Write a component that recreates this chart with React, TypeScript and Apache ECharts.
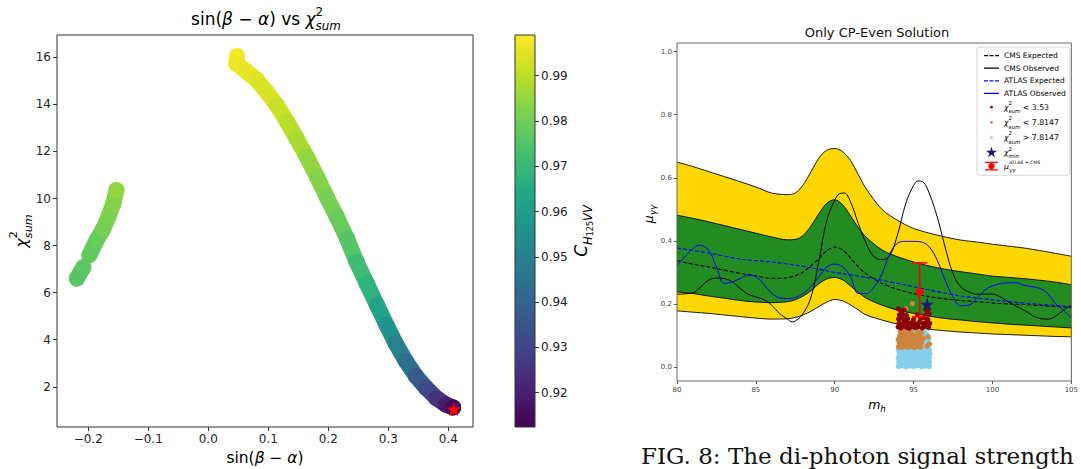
import React, { useEffect, useRef } from 'react';
import * as echarts from 'echarts';

const F = 'DejaVu Sans';
const VIRIDIS = ['#440154', '#482475', '#414487', '#355f8d', '#2a788e', '#21918c', '#22a884', '#44bf70', '#7ad151', '#bddf26', '#fde725'];

// ---------------- left panel: [sin(β−α), χ²sum, C_H125VV] ----------------
const MAIN_BRANCH: number[][] = [
  [0.048, 16.05, 0.998], [0.047, 15.72, 0.997], [0.064, 15.39, 0.996], [0.081, 15.04, 0.995],
  [0.097, 14.54, 0.994], [0.114, 13.97, 0.992], [0.131, 13.27, 0.99], [0.147, 12.56, 0.988],
  [0.164, 11.78, 0.985], [0.181, 10.93, 0.983], [0.197, 10.08, 0.981], [0.214, 9.23, 0.979],
  [0.231, 8.31, 0.976], [0.247, 7.31, 0.972], [0.264, 6.39, 0.968], [0.281, 5.47, 0.962],
  [0.297, 4.62, 0.956], [0.312, 3.85, 0.95], [0.329, 3.1, 0.944], [0.346, 2.45, 0.937],
  [0.363, 1.95, 0.931], [0.38, 1.52, 0.925], [0.396, 1.24, 0.919], [0.408, 1.12, 0.915],
];
const LEFT_UPPER: number[][] = [
  [-0.198, 7.6, 0.978], [-0.186, 8.23, 0.979], [-0.175, 8.7, 0.981], [-0.166, 9.25, 0.982],
  [-0.158, 9.8, 0.983], [-0.153, 10.36, 0.985],
];
const LEFT_LOWER: number[][] = [[-0.219, 6.6, 0.976], [-0.208, 7.08, 0.977]];
const BEST_POINT = [[0.409, 1.05]];
const LEFT_X_TICKS = [-0.2, -0.1, 0, 0.1, 0.2, 0.3, 0.4];
const LEFT_Y_TICKS = [2, 4, 6, 8, 10, 12, 14, 16];
const CBAR_TICKS = [0.92, 0.93, 0.94, 0.95, 0.96, 0.97, 0.98, 0.99];
const CBAR_MIN = 0.9124;
const CBAR_MAX = 0.999;

// ---------------- right panel ----------------
const MASS = [80, 81, 82, 83, 84, 85, 86, 87, 87.5, 88, 88.5, 89, 89.5, 90, 90.5, 91, 91.5, 92, 93, 94, 95, 96, 97, 98, 99, 100, 101, 102, 103, 104, 105];
const YELLOW_HIGH = [0.65, 0.636, 0.62, 0.604, 0.588, 0.571, 0.552, 0.547, 0.552, 0.578, 0.62, 0.663, 0.688, 0.693, 0.683, 0.655, 0.61, 0.565, 0.5, 0.465, 0.44, 0.425, 0.413, 0.403, 0.397, 0.39, 0.384, 0.378, 0.37, 0.361, 0.352];
const GREEN_HIGH = [0.482, 0.472, 0.461, 0.449, 0.437, 0.425, 0.413, 0.404, 0.405, 0.418, 0.448, 0.487, 0.52, 0.531, 0.515, 0.48, 0.442, 0.412, 0.372, 0.35, 0.334, 0.321, 0.311, 0.303, 0.296, 0.289, 0.285, 0.281, 0.276, 0.27, 0.262];
const GREEN_LOW = [0.239, 0.234, 0.226, 0.219, 0.212, 0.207, 0.205, 0.208, 0.214, 0.226, 0.243, 0.265, 0.28, 0.285, 0.277, 0.258, 0.237, 0.219, 0.197, 0.181, 0.171, 0.162, 0.155, 0.15, 0.145, 0.141, 0.137, 0.134, 0.131, 0.128, 0.125];
const YELLOW_LOW = [0.179, 0.175, 0.171, 0.166, 0.161, 0.156, 0.153, 0.154, 0.158, 0.166, 0.178, 0.193, 0.207, 0.215, 0.211, 0.198, 0.182, 0.166, 0.15, 0.137, 0.129, 0.121, 0.116, 0.112, 0.109, 0.106, 0.104, 0.102, 0.1, 0.098, 0.097];
const CMS_EXP = [0.338, 0.327, 0.318, 0.308, 0.298, 0.29, 0.282, 0.284, 0.29, 0.302, 0.322, 0.345, 0.37, 0.381, 0.372, 0.347, 0.318, 0.296, 0.266, 0.247, 0.234, 0.224, 0.217, 0.212, 0.208, 0.204, 0.201, 0.199, 0.196, 0.193, 0.19];
const ATLAS_EXP_X = [80, 82, 84, 86, 88, 90, 92, 94, 96, 98, 100, 102, 104, 105];
const ATLAS_EXP_Y = [0.378, 0.362, 0.343, 0.334, 0.32, 0.301, 0.285, 0.266, 0.245, 0.226, 0.214, 0.204, 0.196, 0.193];
const CMS_OBS_X = [80, 81, 81.5, 82, 82.5, 83, 83.5, 84, 84.5, 85, 85.5, 86, 86.5, 87, 87.3, 87.6, 88, 88.5, 89, 89.5, 90, 90.3, 90.6, 91, 91.5, 92, 92.5, 93, 93.5, 94, 94.5, 95, 95.3, 95.6, 96, 96.5, 97, 97.5, 98, 98.5, 99, 100, 100.5, 101, 102, 103, 103.5, 104, 104.5, 105];
const CMS_OBS_Y = [0.232, 0.236, 0.255, 0.276, 0.283, 0.281, 0.271, 0.25, 0.232, 0.223, 0.215, 0.197, 0.171, 0.153, 0.144, 0.15, 0.171, 0.223, 0.339, 0.466, 0.529, 0.55, 0.552, 0.524, 0.455, 0.392, 0.35, 0.341, 0.355, 0.424, 0.518, 0.576, 0.59, 0.587, 0.55, 0.476, 0.381, 0.297, 0.255, 0.239, 0.232, 0.232, 0.223, 0.208, 0.181, 0.155, 0.153, 0.162, 0.181, 0.197];
const ATLAS_OBS_X = [80, 80.5, 81, 81.4, 82, 82.5, 83, 83.5, 84, 84.5, 85, 86, 86.5, 87, 88, 89, 89.5, 90, 90.5, 91, 91.5, 92, 92.5, 93, 93.5, 94, 94.5, 95, 95.5, 96, 96.5, 97, 97.5, 98, 98.5, 99, 99.5, 100, 101, 101.5, 102, 103, 103.5, 104, 104.5, 105];
const ATLAS_OBS_Y = [0.323, 0.35, 0.376, 0.387, 0.371, 0.318, 0.266, 0.271, 0.281, 0.292, 0.287, 0.235, 0.22, 0.218, 0.234, 0.287, 0.318, 0.327, 0.318, 0.287, 0.234, 0.234, 0.255, 0.297, 0.36, 0.394, 0.399, 0.399, 0.397, 0.381, 0.339, 0.276, 0.223, 0.195, 0.197, 0.218, 0.244, 0.258, 0.268, 0.268, 0.26, 0.25, 0.234, 0.202, 0.181, 0.157];
// scan points [m_h, μγγ]
const CHI_HIGH: number[][] = [
  [94.05, 0.004], [94.3, 0.006], [94.52, 0.003], [94.78, 0.005], [95.02, 0.004], [95.27, 0.006], [95.5, 0.003], [95.74, 0.005], [95.98, 0.004],
  [94.08, 0.017], [94.33, 0.019], [94.58, 0.016], [94.81, 0.018], [95.06, 0.017], [95.3, 0.019], [95.55, 0.016], [95.79, 0.018], [96.0, 0.017],
  [94.04, 0.03], [94.28, 0.031], [94.55, 0.029], [94.79, 0.032], [95.03, 0.03], [95.28, 0.031], [95.52, 0.029], [95.76, 0.032], [95.97, 0.03],
  [94.1, 0.043], [94.35, 0.044], [94.6, 0.042], [94.84, 0.045], [95.08, 0.043], [95.33, 0.044], [95.58, 0.042], [95.82, 0.045], [96.02, 0.043],
  [94.06, 0.055], [94.3, 0.057], [94.56, 0.054], [94.8, 0.056], [95.05, 0.055], [95.3, 0.057], [95.54, 0.054], [95.78, 0.056], [95.99, 0.055],
  [94.2, 0.068], [94.9, 0.07], [95.6, 0.066], [95.85, 0.075], [95.7, 0.085], [95.95, 0.09], [95.5, 0.098], [95.8, 0.105],
  [94.4, 0.11], [95.1, 0.115], [95.65, 0.118], [95.9, 0.125], [94.7, 0.128], [95.4, 0.13], [94.25, 0.135],
];
const CHI_MID: number[][] = [
  [94.05, 0.065], [94.25, 0.063], [94.45, 0.066], [94.65, 0.064], [94.85, 0.067], [95.05, 0.063], [95.25, 0.066], [95.45, 0.064], [95.85, 0.067],
  [94.1, 0.076], [94.3, 0.078], [94.5, 0.075], [94.7, 0.079], [94.9, 0.076], [95.1, 0.078], [95.3, 0.075], [95.5, 0.077], [96.0, 0.074],
  [94.02, 0.088], [94.22, 0.09], [94.42, 0.087], [94.62, 0.091], [94.82, 0.088], [95.02, 0.09], [95.22, 0.087], [95.42, 0.089], [95.62, 0.092],
  [94.12, 0.1], [94.32, 0.102], [94.55, 0.099], [94.75, 0.101], [94.95, 0.103], [95.18, 0.1], [95.38, 0.098], [95.92, 0.097],
  [94.15, 0.112], [94.38, 0.114], [94.6, 0.111], [94.85, 0.113], [95.25, 0.112], [95.5, 0.11],
  [94.5, 0.124], [95.2, 0.126], [94.92, 0.202], [94.5, 0.186],
];
const CHI_LOW: number[][] = [
  [94.02, 0.128], [94.2, 0.125], [94.38, 0.13], [94.55, 0.127], [94.72, 0.124], [94.9, 0.129], [95.08, 0.126], [95.3, 0.128], [95.55, 0.125], [95.75, 0.13], [95.95, 0.127],
  [94.08, 0.14], [94.28, 0.138], [94.45, 0.143], [94.65, 0.139], [94.85, 0.141], [95.12, 0.137], [95.35, 0.142], [95.6, 0.139], [95.82, 0.143], [96.02, 0.14],
  [94.05, 0.153], [94.25, 0.156], [94.42, 0.151], [94.62, 0.155], [95.0, 0.152], [95.45, 0.154], [95.7, 0.157], [95.9, 0.152],
  [94.1, 0.166], [94.3, 0.168], [94.55, 0.164], [95.25, 0.167], [95.78, 0.165], [95.98, 0.17],
  [94.2, 0.178], [94.4, 0.182], [94.05, 0.185], [95.85, 0.18],
];
const CHI_MIN_POINT = [[95.86, 0.2]];
// [m_h, μ, μ_low, μ_high]
const MU_COMBINED = [[95.38, 0.239, 0.16, 0.331]];
const RIGHT_Y_TICKS = [0, 0.2, 0.4, 0.6, 0.8, 1.0];

const STAR = 'path://M50,0 L61.2,34.5 L97.6,34.5 L68.2,55.9 L79.4,90.5 L50,69.1 L20.6,90.5 L31.8,55.9 L2.4,34.5 L38.8,34.5 Z';
const CORNERS = 'M0,0h0.01v0.01h-0.01z M15,11h-0.01v-0.01h0.01z ';
const SOLID_ICON = 'path://' + CORNERS + 'M0,5h15v1.2h-15z';
const DASH_ICON = 'path://' + CORNERS + 'M0,5h4v1.2h-4z M5.5,5h4v1.2h-4z M11,5h4v1.2h-4z';
const DOT_ICON = 'path://' + CORNERS + 'M6.1,5.5a1.4,1.4 0 1,1 2.8,0a1.4,1.4 0 1,1 -2.8,0z';
const STAR_ICON = 'path://' + CORNERS + 'M7.5,0 L8.8,4 L13,4 L9.6,6.5 L10.9,10.6 L7.5,8.1 L4.1,10.6 L5.4,6.5 L2,4 L6.2,4 Z';
const ERR_ICON = 'path://' + CORNERS + 'M1,1.2h13v1.1h-13z M1,8.7h13v1.1h-13z M7,1.2h1.1v8.6h-1.1z M4.4,5.5a3.1,3.1 0 1,1 6.2,0a3.1,3.1 0 1,1 -6.2,0z';

const pairs = (xs: number[], ys: number[]) => xs.map((x, i) => [x, ys[i]]);
const fmt1 = (v: number) => v.toFixed(1).replace('-', '\u2212');

const mathRich = (fs: number, color = '#000') => {
  const s = fs * 0.7;
  const L = fs * 0.88 + s;
  return {
    t: { fontFamily: F, fontSize: fs, lineHeight: L, align: 'left', color },
    i: { fontFamily: F, fontStyle: 'italic', fontSize: fs, lineHeight: L, align: 'left', color },
    sup: { fontFamily: F, fontSize: s, lineHeight: s, verticalAlign: 'top', width: 0, align: 'left', color },
    supi: { fontFamily: F, fontStyle: 'italic', fontSize: s * 0.85, lineHeight: s, verticalAlign: 'top', align: 'left', color },
    sub: { fontFamily: F, fontStyle: 'italic', fontSize: s, lineHeight: s, verticalAlign: 'bottom', align: 'left', color },
    sub0: { fontFamily: F, fontStyle: 'italic', fontSize: s, lineHeight: s, verticalAlign: 'bottom', width: 0, align: 'left', color },
  };
};

const LEGEND_TEXT: Record<string, string> = {
  'χ²sum < 3.53': '{i|χ}{sup|2}{sub|sum}{t| < 3.53}',
  'χ²sum < 7.8147': '{i|χ}{sup|2}{sub|sum}{t| < 7.8147}',
  'χ²sum > 7.8147': '{i|χ}{sup|2}{sub|sum}{t| > 7.8147}',
  'χ²min': '{i|χ}{sup|2}{sub|min}',
  'μγγ ATLAS + CMS': '{i|μ}{sub0|γγ}{supi|ATLAS + CMS}',
};

function buildOption(): any {
  const branchSeries = (data: number[][], name: string) => ({
    type: 'custom',
    name,
    xAxisIndex: 0,
    yAxisIndex: 0,
    data,
    encode: { x: 0, y: 1 },
    z: 2,
    renderItem: (params: any, api: any) => {
      const i = params.dataIndex;
      const p0 = api.coord([api.value(0), api.value(1)]);
      const nxt = data[i + 1];
      const color = api.visual('color');
      const children: any[] = [
        { type: 'circle', shape: { cx: p0[0], cy: p0[1], r: 8 }, style: { fill: color } },
      ];
      if (nxt) {
        const p1 = api.coord([nxt[0], nxt[1]]);
        children.push({ type: 'line', shape: { x1: p0[0], y1: p0[1], x2: p1[0], y2: p1[1] }, style: { stroke: color, lineWidth: 16, lineCap: 'round' } });
      }
      return { type: 'group', children };
    },
  });

  const bandLine = (ys: number[], fill: string) => ({
    type: 'line',
    xAxisIndex: 2,
    yAxisIndex: 2,
    data: pairs(MASS, ys),
    symbol: 'none',
    smooth: 0.3,
    lineStyle: { color: '#000', width: 0.9 },
    areaStyle: { color: fill, opacity: 1, origin: 'start' },
    silent: true,
    z: 1,
  });

  const noLine = { show: false, onZero: false };
  const axisLabelL = { fontFamily: F, fontSize: 12, color: '#222', margin: 6 };
  const axisLabelR = { fontFamily: F, fontSize: 7, color: '#444', margin: 5 };

  return {
    animation: false,
    backgroundColor: '#fff',
    grid: [
      { left: 57, top: 35, width: 416, height: 392, show: true, borderColor: '#333', borderWidth: 1, backgroundColor: 'transparent', z: 10 },
      { left: 515, top: 35, width: 20, height: 392, show: true, borderColor: '#333', borderWidth: 1, backgroundColor: 'transparent', z: 10 },
      { left: 677, top: 43, width: 399, height: 338, show: true, borderColor: '#555', borderWidth: 0.9, backgroundColor: 'transparent', z: 10 },
    ],
    xAxis: [
      {
        type: 'value', gridIndex: 0, min: -0.252, max: 0.441,
        axisLine: noLine, splitLine: { show: false },
        axisTick: { show: true, customValues: LEFT_X_TICKS, length: 4, lineStyle: { color: '#333' } },
        axisLabel: { ...axisLabelL, customValues: LEFT_X_TICKS, formatter: fmt1 },
      },
      { type: 'value', gridIndex: 1, min: 0, max: 1, show: false, axisLine: noLine },
      {
        type: 'value', gridIndex: 2, min: 80, max: 105, interval: 5,
        axisLine: noLine, splitLine: { show: false },
        axisTick: { show: true, length: 3, lineStyle: { color: '#555' } },
        axisLabel: { ...axisLabelR, formatter: (v: number) => String(v) },
      },
    ],
    yAxis: [
      {
        type: 'value', gridIndex: 0, min: 0.29, max: 16.95,
        axisLine: noLine, splitLine: { show: false },
        axisTick: { show: true, customValues: LEFT_Y_TICKS, length: 4, lineStyle: { color: '#333' } },
        axisLabel: { ...axisLabelL, customValues: LEFT_Y_TICKS, formatter: (v: number) => String(v) },
      },
      {
        type: 'value', gridIndex: 1, min: CBAR_MIN, max: CBAR_MAX, position: 'right',
        axisLine: noLine, splitLine: { show: false },
        axisTick: { show: true, customValues: CBAR_TICKS, length: 4, lineStyle: { color: '#333' } },
        axisLabel: { ...axisLabelL, customValues: CBAR_TICKS, formatter: (v: number) => v.toFixed(2) },
      },
      {
        type: 'value', gridIndex: 2, min: -0.043, max: 1.027,
        axisLine: noLine, splitLine: { show: false },
        axisTick: { show: true, customValues: RIGHT_Y_TICKS, length: 3, lineStyle: { color: '#555' } },
        axisLabel: { ...axisLabelR, customValues: RIGHT_Y_TICKS, formatter: fmt1 },
      },
    ],
    visualMap: {
      show: false, type: 'continuous', min: CBAR_MIN, max: CBAR_MAX, dimension: 2,
      seriesIndex: [0, 1, 2], inRange: { color: VIRIDIS },
    },
    legend: {
      left: 977, top: 47, orient: 'vertical',
      padding: [3, 4, 3, 7],
      itemWidth: 15, itemHeight: 11, itemGap: 1.6,
      backgroundColor: '#fff', borderColor: '#cccccc', borderWidth: 0.8, borderRadius: 3,
      selectedMode: false,
      z: 20,
      textStyle: { fontFamily: F, fontSize: 7.5, color: '#000', rich: (() => { const r: any = mathRich(7.8); Object.values(r).forEach((s: any) => { if (s.lineHeight === r.t.lineHeight) { s.lineHeight = 13.6; } }); return r; })() },
      formatter: (name: string) => LEGEND_TEXT[name] ?? name,
      data: [
        { name: 'CMS Expected', icon: DASH_ICON },
        { name: 'CMS Observed', icon: SOLID_ICON },
        { name: 'ATLAS Expected', icon: DASH_ICON },
        { name: 'ATLAS Observed', icon: SOLID_ICON },
        { name: 'χ²sum < 3.53', icon: DOT_ICON },
        { name: 'χ²sum < 7.8147', icon: DOT_ICON },
        { name: 'χ²sum > 7.8147', icon: DOT_ICON },
        { name: 'χ²min', icon: STAR_ICON },
        { name: 'μγγ ATLAS + CMS', icon: ERR_ICON },
      ],
    },
    series: [
      branchSeries(MAIN_BRANCH, 'main'),
      branchSeries(LEFT_UPPER, 'upper'),
      branchSeries(LEFT_LOWER, 'lower'),
      {
        type: 'scatter', name: 'best', xAxisIndex: 0, yAxisIndex: 0, data: BEST_POINT,
        symbol: STAR, symbolSize: 15, symbolKeepAspect: true, itemStyle: { color: '#ff0000', opacity: 1 }, z: 5,
      },
      {
        type: 'custom', name: 'colorbar', xAxisIndex: 1, yAxisIndex: 1, data: [[0, CBAR_MIN]],
        renderItem: (_p: any, api: any) => {
          const a = api.coord([0, CBAR_MAX]);
          const b = api.coord([1, CBAR_MIN]);
          return {
            type: 'rect', shape: { x: a[0], y: a[1], width: b[0] - a[0], height: b[1] - a[1] },
            style: { fill: new echarts.graphic.LinearGradient(0, 1, 0, 0, VIRIDIS.map((c, i) => ({ offset: i / 10, color: c }))) },
          };
        },
      },
      bandLine(YELLOW_HIGH, '#ffd700'),
      bandLine(GREEN_HIGH, '#228b22'),
      bandLine(GREEN_LOW, '#ffd700'),
      bandLine(YELLOW_LOW, '#ffffff'),
      {
        type: 'line', name: 'CMS Expected', xAxisIndex: 2, yAxisIndex: 2, data: pairs(MASS, CMS_EXP), z: 3,
        symbol: 'none', smooth: 0.3, lineStyle: { color: '#000', width: 1.1, type: [4, 2] }, itemStyle: { color: '#000' },
      },
      {
        type: 'line', name: 'CMS Observed', xAxisIndex: 2, yAxisIndex: 2, data: pairs(CMS_OBS_X, CMS_OBS_Y), z: 3,
        symbol: 'none', smooth: 0.4, lineStyle: { color: '#000', width: 1 }, itemStyle: { color: '#000' },
      },
      {
        type: 'line', name: 'ATLAS Expected', xAxisIndex: 2, yAxisIndex: 2, data: pairs(ATLAS_EXP_X, ATLAS_EXP_Y), z: 3,
        symbol: 'none', smooth: 0.3, lineStyle: { color: '#0000ff', width: 1.1, type: [4, 2] }, itemStyle: { color: '#0000ff' },
      },
      {
        type: 'line', name: 'ATLAS Observed', xAxisIndex: 2, yAxisIndex: 2, data: pairs(ATLAS_OBS_X, ATLAS_OBS_Y), z: 3,
        symbol: 'none', smooth: 0.4, lineStyle: { color: '#0000ff', width: 1 }, itemStyle: { color: '#0000ff' },
      },
      {
        type: 'scatter', name: 'χ²sum > 7.8147', xAxisIndex: 2, yAxisIndex: 2, data: CHI_HIGH, z: 4,
        symbolSize: 5.8, itemStyle: { color: '#87ceeb', opacity: 1 },
      },
      {
        type: 'scatter', name: 'χ²sum < 7.8147', xAxisIndex: 2, yAxisIndex: 2, data: CHI_MID, z: 4,
        symbolSize: 5.4, itemStyle: { color: '#cd853f', opacity: 1 },
      },
      {
        type: 'scatter', name: 'χ²sum < 3.53', xAxisIndex: 2, yAxisIndex: 2, data: CHI_LOW, z: 4,
        symbolSize: 5.2, itemStyle: { color: '#8b0000', opacity: 1 },
      },
      {
        type: 'custom', name: 'μγγ ATLAS + CMS', xAxisIndex: 2, yAxisIndex: 2, data: MU_COMBINED, z: 5,
        itemStyle: { color: '#ff0000' },
        renderItem: (_p: any, api: any) => {
          const c = api.coord([api.value(0), api.value(1)]);
          const lo = api.coord([api.value(0), api.value(2)]);
          const hi = api.coord([api.value(0), api.value(3)]);
          const w = 7.5;
          const st = { stroke: '#ff0000', lineWidth: 1.6 };
          return {
            type: 'group', children: [
              { type: 'line', shape: { x1: c[0], y1: lo[1], x2: c[0], y2: hi[1] }, style: st },
              { type: 'line', shape: { x1: c[0] - w, y1: hi[1], x2: c[0] + w, y2: hi[1] }, style: st },
              { type: 'line', shape: { x1: c[0] - w, y1: lo[1], x2: c[0] + w, y2: lo[1] }, style: st },
              { type: 'circle', shape: { cx: c[0], cy: c[1], r: 4 }, style: { fill: '#ff0000' } },
            ],
          };
        },
      },
      {
        type: 'scatter', name: 'χ²min', xAxisIndex: 2, yAxisIndex: 2, data: CHI_MIN_POINT,
        symbol: STAR, symbolSize: 14, symbolKeepAspect: true, itemStyle: { color: '#191970', opacity: 1 }, z: 6,
      },
    ],
    graphic: [
      { type: 'text', x: 266, y: 19, style: { text: '{t|sin(}{i|β}{t| − }{i|α}{t|) vs }{i|χ}{sup|2}{sub|sum}', align: 'center', verticalAlign: 'middle', rich: mathRich(17, '#111') } },
      { type: 'text', x: 265, y: 458, style: { text: '{t|sin(}{i|β}{t| − }{i|α}{t|)}', align: 'center', verticalAlign: 'middle', rich: mathRich(15.5, '#111') } },
      { type: 'text', x: 21, y: 231, rotation: Math.PI / 2, style: { text: '{i|χ}{sup|2}{sub|sum}', align: 'center', verticalAlign: 'middle', rich: mathRich(16, '#111') } },
      {
        type: 'text', x: 581, y: 231, rotation: Math.PI / 2,
        style: {
          text: '{c|C}{s|H}{ss|125}{s|VV}', align: 'center', verticalAlign: 'middle',
          rich: {
            c: { fontFamily: F, fontStyle: 'italic', fontSize: 17, lineHeight: 26, align: 'left', color: '#111' },
            s: { fontFamily: F, fontStyle: 'italic', fontSize: 11.5, lineHeight: 15, verticalAlign: 'bottom', align: 'left', color: '#111' },
            ss: { fontFamily: F, fontSize: 8, lineHeight: 9, verticalAlign: 'bottom', align: 'left', color: '#111' },
          },
        },
      },
      { type: 'text', x: 877, y: 32, style: { text: 'Only CP-Even Solution', align: 'center', verticalAlign: 'middle', fontFamily: F, fontSize: 13, fill: '#111' } },
      { type: 'text', x: 877, y: 404, style: { text: '{i|m}{sub|h}', align: 'center', verticalAlign: 'middle', rich: mathRich(12.5, '#111') } },
      { type: 'text', x: 648, y: 214, rotation: Math.PI / 2, style: { text: '{i|μ}{sub|γγ}', align: 'center', verticalAlign: 'middle', rich: mathRich(12.5, '#111') } },
      { type: 'text', x: 641, y: 456, style: { text: 'FIG. 8: The di-photon signal strength', align: 'left', verticalAlign: 'middle', fontFamily: 'DejaVu Serif', fontSize: 23, fill: '#111' } },
    ],
  };
}

export default function App() {
  const ref = useRef<HTMLDivElement>(null);
  useEffect(() => {
    if (!ref.current) return;
    const chart = echarts.init(ref.current, null, { renderer: 'svg' });
    chart.setOption(buildOption());
    return () => chart.dispose();
  }, []);
  return <div ref={ref} style={{ position: 'fixed', left: 0, top: 0, width: 1081, height: 469, background: '#fff' }} />;
}
